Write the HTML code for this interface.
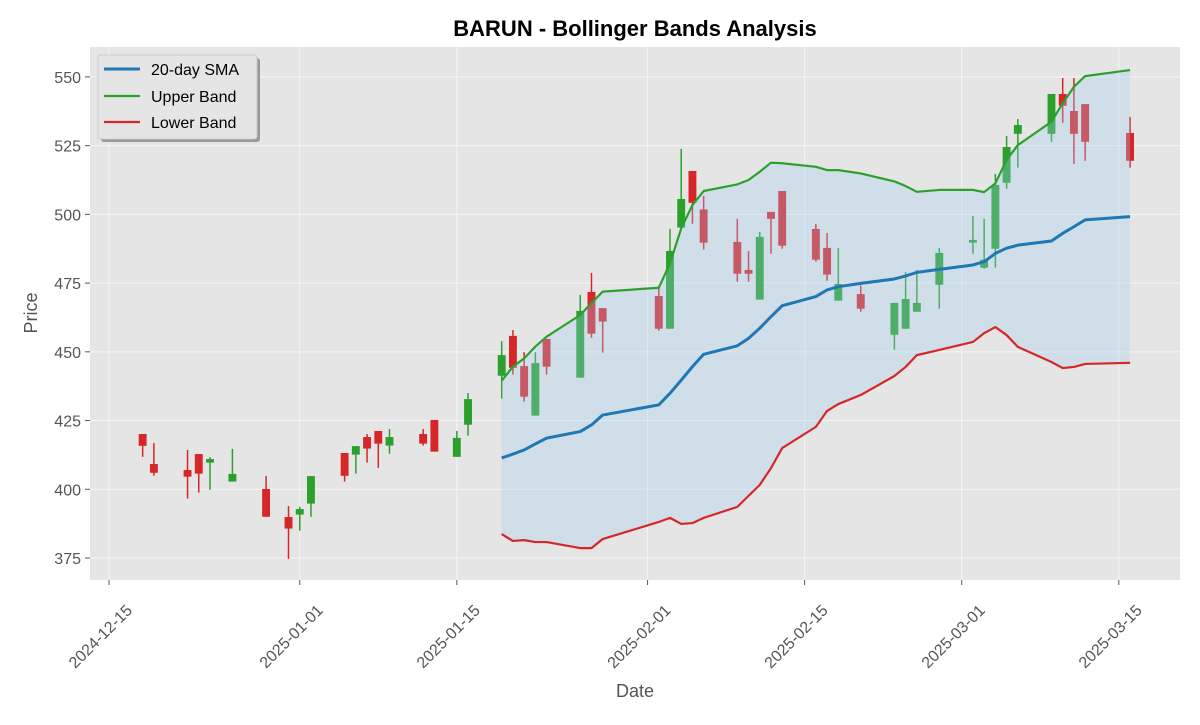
<!DOCTYPE html>
<html><head><meta charset="utf-8"><style>
html,body{margin:0;padding:0;background:#fff;}
svg text{font-family:"Liberation Sans",sans-serif;}
</style></head><body>
<svg id="chart" width="1200" height="720" xmlns="http://www.w3.org/2000/svg">
<rect x="0" y="0" width="1200" height="720" fill="#fff"/>
<text x="635" y="36" text-anchor="middle" font-size="22" font-weight="bold" fill="#000">BARUN - Bollinger Bands Analysis</text>
<rect x="90" y="47" width="1090" height="533" fill="#e5e5e5"/>
<g id="grid"></g>
<g id="candles"></g>
<g id="bands"></g>
<g id="axes"></g>
<text x="635" y="697" text-anchor="middle" font-size="18" fill="#555">Date</text>
<text transform="translate(37,313) rotate(-90)" text-anchor="middle" font-size="18" fill="#555">Price</text>
<g>
<rect x="101" y="58" width="159" height="84" rx="3" fill="#999"/>
<rect x="98" y="55" width="159" height="84" rx="3" fill="#e5e5e5" stroke="#ccc"/>
<line x1="104" y1="69" x2="140" y2="69" stroke="#1f77b4" stroke-width="3"/>
<text x="151" y="75" font-size="16" fill="#000">20-day SMA</text>
<line x1="104" y1="96" x2="140" y2="96" stroke="#2ca02c" stroke-width="2.2"/>
<text x="151" y="102" font-size="16" fill="#000">Upper Band</text>
<line x1="104" y1="122" x2="140" y2="122" stroke="#d62728" stroke-width="2.2"/>
<text x="151" y="128" font-size="16" fill="#000">Lower Band</text>
</g>
</svg>
<script>
const dates=["2024-12-18","2024-12-19","2024-12-22","2024-12-23","2024-12-24","2024-12-26","2024-12-29","2024-12-31","2025-01-01","2025-01-02","2025-01-05","2025-01-06","2025-01-07","2025-01-08","2025-01-09","2025-01-12","2025-01-13","2025-01-15","2025-01-16","2025-01-19","2025-01-20","2025-01-21","2025-01-22","2025-01-23","2025-01-26","2025-01-27","2025-01-28","2025-02-02","2025-02-03","2025-02-04","2025-02-05","2025-02-06","2025-02-09","2025-02-10","2025-02-11","2025-02-12","2025-02-13","2025-02-16","2025-02-17","2025-02-18","2025-02-20","2025-02-23","2025-02-24","2025-02-25","2025-02-27","2025-03-02","2025-03-03","2025-03-04","2025-03-05","2025-03-06","2025-03-09","2025-03-10","2025-03-11","2025-03-12","2025-03-16"];
const opens=[420.1,409.2,407.0,412.8,409.7,402.8,400.1,389.9,390.8,394.8,413.2,412.6,419.0,421.2,415.9,420.1,425.2,411.8,423.5,441.3,455.8,444.8,426.8,454.7,440.6,471.8,465.9,470.3,458.4,495.2,515.8,501.8,490.0,479.8,469.0,500.9,508.5,494.7,487.8,468.6,471.0,456.2,458.4,464.6,474.4,489.7,480.6,487.5,511.5,529.3,529.3,543.8,537.6,540.1,529.6];
const highs=[420.1,416.8,414.3,412.8,411.7,414.7,404.8,393.9,393.6,404.8,413.2,415.7,420.1,421.2,421.9,421.9,425.2,421.2,435.0,453.9,457.9,449.9,449.9,454.7,470.7,478.7,465.9,473.6,494.7,523.8,515.8,506.7,498.4,486.7,493.6,500.9,508.5,496.5,493.2,487.8,474.1,467.8,479.0,479.8,487.8,499.4,498.4,514.7,528.5,534.7,543.8,549.6,549.6,540.1,535.4];
const lows=[411.8,404.9,396.6,398.8,399.8,402.8,390.0,374.7,384.9,390.0,402.8,405.7,409.7,407.8,412.9,415.9,413.7,411.8,419.5,433.0,441.7,431.9,426.8,441.7,440.6,455.1,449.7,457.7,458.4,495.2,496.6,487.2,475.5,475.5,469.0,485.7,487.5,482.8,475.9,468.6,464.6,450.8,458.4,464.6,465.7,485.7,480.2,480.6,509.3,517.0,526.4,533.3,518.4,519.5,517.0];
const closes=[415.8,406.0,404.6,405.7,411.0,405.6,390.0,385.7,392.8,404.8,404.9,415.7,414.8,416.6,419.0,416.6,413.7,418.7,432.8,448.8,444.2,433.7,445.9,444.6,464.9,456.6,461.0,458.4,486.7,505.6,504.2,489.7,478.4,478.4,491.8,498.4,488.6,483.5,478.1,474.7,465.7,467.8,469.2,467.8,486.0,490.7,483.5,510.7,524.5,532.5,543.8,539.5,529.3,526.4,519.5];
const bandStart=19;
const sma=[411.4,412.8,414.3,416.5,418.6,421.0,423.4,427.0,430.7,434.9,439.7,444.6,449.1,452.2,454.9,458.6,462.8,466.8,470.1,472.5,473.7,474.9,476.5,477.6,478.9,480.0,481.6,482.8,485.8,487.7,488.8,490.3,493.1,495.5,498.0,499.2];
const upper=[439.5,444.6,447.6,451.9,455.5,463.4,467.7,471.9,473.3,482.2,494.9,503.4,508.5,510.9,512.5,515.5,518.8,518.6,517.3,516.1,516.1,514.9,512.0,510.3,508.2,508.9,508.9,508.1,511.3,519.8,525.2,533.7,540.4,546.4,550.3,552.5];
const lower=[383.7,381.2,381.5,380.8,380.8,378.6,378.6,381.9,388.1,389.6,387.4,387.7,389.6,393.6,397.6,401.6,407.7,415.0,422.7,428.5,431.0,434.3,441.2,444.5,448.8,450.7,453.6,456.8,459.0,456.1,451.8,446.3,444.1,444.5,445.6,446.0];
const yTicks=[375,400,425,450,475,500,525,550];
const xTicks=["2024-12-15","2025-01-01","2025-01-15","2025-02-01","2025-02-15","2025-03-01","2025-03-15"];

const NS="http://www.w3.org/2000/svg";
const T0=Date.UTC(2024,11,15);
function dayOf(s){const p=s.split("-");return (Date.UTC(+p[0],+p[1]-1,+p[2])-T0)/86400000;}
function X(s){return 109+dayOf(s)*11.22;}
function Y(v){return 558-(v-375)*2.749;}
function mk(tag,attrs,parent){const e=document.createElementNS(NS,tag);for(const k in attrs)e.setAttribute(k,attrs[k]);parent.appendChild(e);return e;}
const grid=document.getElementById("grid"),cg=document.getElementById("candles"),bg=document.getElementById("bands"),ax=document.getElementById("axes");

yTicks.forEach(v=>{
  const l=mk("line",{x1:90,x2:1180,y1:Y(v),y2:Y(v),stroke:"#fff","stroke-opacity":0.6,"stroke-width":1},grid);
  
  
  const tk=mk("line",{x1:85,x2:90,y1:Y(v),y2:Y(v),stroke:"#555"},ax);
  
  
  const t=mk("text",{x:81,y:Y(v)+6,"text-anchor":"end","font-size":16,fill:"#555"},ax);
  t.textContent=v;
  
  
});
xTicks.forEach(s=>{
  const x=X(s);
  const l=mk("line",{x1:x,x2:x,y1:47,y2:580,stroke:"#fff","stroke-opacity":0.6,"stroke-width":1},grid);
  
  
  const tk=mk("line",{x1:x,x2:x,y1:580,y2:585,stroke:"#555"},ax);
  
  
  const cx=x-9,cy=636;
  const t=mk("text",{x:cx,y:cy+6,"text-anchor":"middle","font-size":16,fill:"#555",transform:`rotate(-45 ${cx} ${cy})`},ax);
  t.textContent=s;
  
  
});

dates.forEach((d,i)=>{
  const up=closes[i]>=opens[i];
  const col=up?"#2ca02c":"#d62728";
  const x=X(d);
  const w=mk("line",{x1:x,x2:x,y1:Y(highs[i]),y2:Y(lows[i]),stroke:col,"stroke-width":1.5},cg);
  
  
  const top=Y(Math.max(opens[i],closes[i])),bot=Y(Math.min(opens[i],closes[i]));
  const b=mk("rect",{x:x-3.95,y:top,width:7.9,height:Math.max(bot-top,1.2),fill:col},cg);
  
  
});

const bx=sma.map((_,i)=>X(dates[bandStart+i]));
let area="M"+bx.map((x,i)=>x+","+Y(upper[i])).join(" L");
for(let i=bx.length-1;i>=0;i--)area+=" L"+bx[i]+","+Y(lower[i]);
area+=" Z";
const fill=mk("path",{d:area,fill:"rgb(160,205,245)","fill-opacity":0.3},bg);


function line(arr,col,w,name){
  const p=mk("polyline",{points:bx.map((x,i)=>x+","+Y(arr[i])).join(" "),fill:"none",stroke:col,"stroke-width":w,"stroke-linejoin":"round"},bg);
  
  
}
line(upper,"#2ca02c",2.2,"upper-band-line");
line(lower,"#d62728",2.2,"lower-band-line");
line(sma,"#1f77b4",3,"sma-line");
</script>
</body></html>
